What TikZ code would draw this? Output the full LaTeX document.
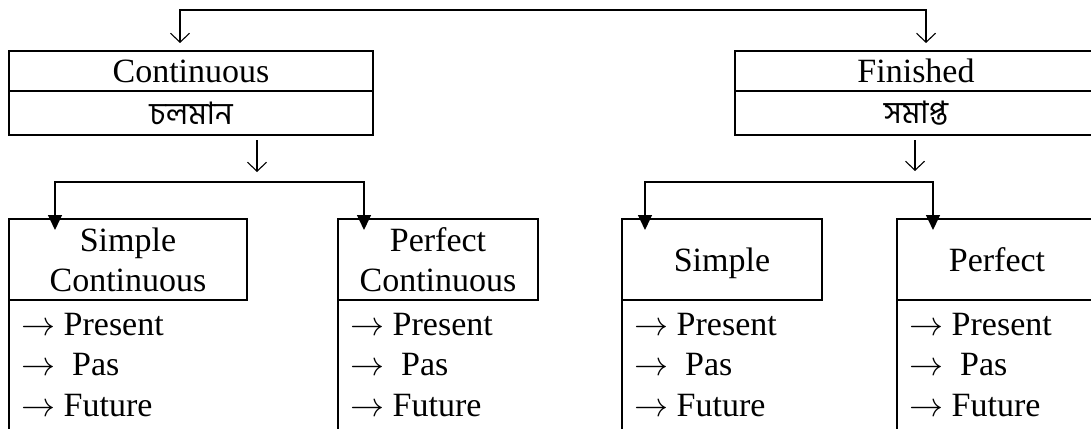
\RequirePackage{fix-cm}
\documentclass[tikz,border=0pt]{standalone}
\usepackage{fontspec}
\setmainfont{Liberation Serif}
\newfontfamily\bangla[Script=Bengali]{Hind Siliguri}
\usetikzlibrary{
  arrows.meta,
  positioning
}

\begin{document}
\begin{tikzpicture}[x=1pt, y=-1pt,
    box/.style={draw, line width=1.6pt, inner sep=0pt, outer sep=0pt,
      align=center, font=\fontsize{34}{40}\selectfont},
    bnbox/.style={box, font=\bangla\fontsize{31}{34}\selectfont},
    items/.style={anchor=north west, align=left, inner sep=0pt,
      font=\fontsize{34}{40.5}\selectfont},
    edge/.style={line width=1.6pt},
    thinarrow/.style={line width=1.1pt, {Straight Barb[length=9pt,width=19pt]}-{Straight Barb[length=9pt,width=19pt]}},
    downarrow/.style={line width=1.1pt, -{Straight Barb[length=9pt,width=19pt]}},
    link/.style={line width=1.4pt, {Triangle[length=15pt,width=14pt]}-{Triangle[length=15pt,width=14pt]}}]
  \def\Ytop{10};
  \def\Yin{43};
  \def\Ylink{182};
  \def\Ytip{230};
  \useasboundingbox (0,0) rectangle (1091,428);

  % upper boxes
  \node[box, minimum width=364, minimum height=40] (cont) at (191,71) {Continuous};
  \node[bnbox, minimum width=364, minimum height=44, below=0pt of cont] (contbn) {চলমান};
  \node[box, minimum width=362, minimum height=40] (fin) at (916,71) {Finished};
  \node[bnbox, minimum width=362, minimum height=44, below=0pt of fin] (finbn) {সমাপ্ত};

  % lower boxes
  \node[box, minimum width=238, minimum height=81] (sc) at (128,259.5) {Simple\\Continuous};
  \node[box, minimum width=200, minimum height=81] (pc) at (438,259.5) {Perfect\\Continuous};
  \node[box, minimum width=200, minimum height=81, text depth=0pt] (s) at (722,259.5) {Simple};
  \node[box, minimum width=200, minimum height=81, text depth=0pt] (p) at (997,259.5) {Perfect};

  % lists under the lower boxes
  \draw[edge] (sc.south west) -- ++(0,140);
  \draw[edge] (pc.south west) -- ++(0,140);
  \draw[edge] (s.south west) -- ++(0,140);
  \draw[edge] (p.south west) -- ++(0,140);
  \node[items] (sclist) at (21,313) {$\rightarrow$ Present\\$\rightarrow$~ Pas\\$\rightarrow$ Future};
  \node[items] (pclist) at (350,313) {$\rightarrow$ Present\\$\rightarrow$~ Pas\\$\rightarrow$ Future};
  \node[items] (slist) at (634,313) {$\rightarrow$ Present\\$\rightarrow$~ Pas\\$\rightarrow$ Future};
  \node[items] (plist) at (909,313) {$\rightarrow$ Present\\$\rightarrow$~ Pas\\$\rightarrow$ Future};

  % top connector
  \coordinate (contin) at (180,\Yin);
  \coordinate (finin) at (926,\Yin);
  \draw[thinarrow] (contin) |- (finin |- 0,\Ytop) -- (finin);

  % single arrows under the upper boxes
  \coordinate (conta) at (257,140);
  \coordinate (contb) at (257,172);
  \coordinate (fina) at (915,140);
  \coordinate (finb) at (915,171);
  \draw[downarrow] (conta) -- (contb);
  \draw[downarrow] (fina) -- (finb);

  % links to the lower boxes
  \coordinate (scin) at (55,\Ytip);
  \coordinate (pcin) at (364,\Ytip);
  \coordinate (sin) at (645,\Ytip);
  \coordinate (pin) at (933,\Ytip);
  \draw[link] (scin) |- (pcin |- 0,\Ylink) -- (pcin);
  \draw[link] (sin) |- (pin |- 0,\Ylink) -- (pin);

\end{tikzpicture}
\end{document}
